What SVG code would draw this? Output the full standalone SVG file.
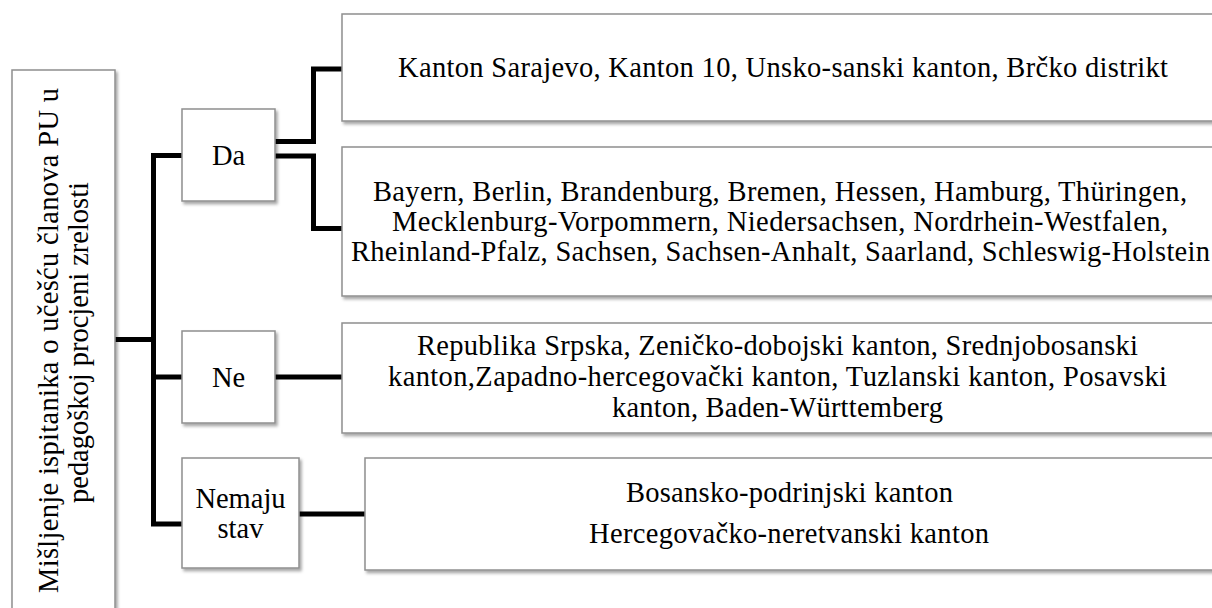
<svg xmlns="http://www.w3.org/2000/svg" width="1212" height="608" viewBox="0 0 1212 608">
<defs>
<filter id="sh" x="-5%" y="-5%" width="115%" height="120%">
<feDropShadow dx="2" dy="2.5" stdDeviation="1.5" flood-color="#000" flood-opacity="0.35"/>
</filter>
<style>
.box{fill:#fff;stroke:#8f8f8f;stroke-width:1.5;filter:url(#sh)}
.t{font-family:"Liberation Serif","Times New Roman",serif;font-size:28.5px;fill:#000;text-anchor:middle}
.c{fill:none;stroke:#000;stroke-width:5;stroke-linejoin:miter;stroke-linecap:butt}
</style>
</defs>
<rect width="1212" height="608" fill="#fff"/>
<g id="connectors">
<path class="c" d="M115,339.5 H153.5"/>
<path class="c" d="M182,155.5 H153.5 V524 H182"/>
<path class="c" d="M153.5,377 H182"/>
<path class="c" d="M275,141.5 H313.5 V69 H342"/>
<path class="c" d="M275,156 H313.5 V228.5 H342"/>
<path class="c" d="M275,377 H342"/>
<path class="c" d="M299,514 H365"/>
</g>
<g id="root">
<rect class="box" x="12" y="70" width="103" height="550"/>
<text class="t" transform="translate(58,340.5) rotate(-90)" x="0" y="0" textLength="505" lengthAdjust="spacing">Mišljenje ispitanika o učešću članova PU u</text>
<text class="t" transform="translate(88,342.5) rotate(-90)" x="0" y="0" textLength="321" lengthAdjust="spacing">pedagoškoj procjeni zrelosti</text>
</g>
<g id="da">
<rect class="box" x="182" y="109" width="93" height="92"/>
<text class="t" x="228.5" y="165">Da</text>
</g>
<g id="ne">
<rect class="box" x="182" y="331" width="93" height="92"/>
<text class="t" x="228.5" y="387">Ne</text>
</g>
<g id="nemaju">
<rect class="box" x="182" y="458" width="117" height="110"/>
<text class="t" x="240.5" y="508">Nemaju</text>
<text class="t" x="240.5" y="538">stav</text>
</g>
<g id="b1">
<rect class="box" x="342" y="14" width="890" height="107"/>
<text class="t" x="783" y="77" textLength="770" lengthAdjust="spacing">Kanton Sarajevo, Kanton 10, Unsko-sanski kanton, Brčko distrikt</text>
</g>
<g id="b2">
<rect class="box" x="342" y="147" width="890" height="149"/>
<text class="t" x="780" y="201" textLength="814" lengthAdjust="spacing">Bayern, Berlin, Brandenburg, Bremen, Hessen, Hamburg, Thüringen,</text>
<text class="t" x="780" y="231" textLength="776" lengthAdjust="spacing">Mecklenburg-Vorpommern, Niedersachsen, Nordrhein-Westfalen,</text>
<text class="t" x="780.5" y="260.5" textLength="859" lengthAdjust="spacing">Rheinland-Pfalz, Sachsen, Sachsen-Anhalt, Saarland, Schleswig-Holstein</text>
</g>
<g id="b3">
<rect class="box" x="342" y="323" width="890" height="110"/>
<text class="t" x="777.5" y="355" textLength="721" lengthAdjust="spacing">Republika Srpska, Zeničko-dobojski kanton, Srednjobosanski</text>
<text class="t" x="777.5" y="386" textLength="779" lengthAdjust="spacing">kanton,Zapadno-hercegovački kanton, Tuzlanski kanton, Posavski</text>
<text class="t" x="777.5" y="416.5" textLength="331" lengthAdjust="spacing">kanton, Baden-Württemberg</text>
</g>
<g id="b4">
<rect class="box" x="365" y="458" width="870" height="112"/>
<text class="t" x="789.5" y="502" textLength="327" lengthAdjust="spacing">Bosansko-podrinjski kanton</text>
<text class="t" x="789" y="543" textLength="400" lengthAdjust="spacing">Hercegovačko-neretvanski kanton</text>
</g>
</svg>
